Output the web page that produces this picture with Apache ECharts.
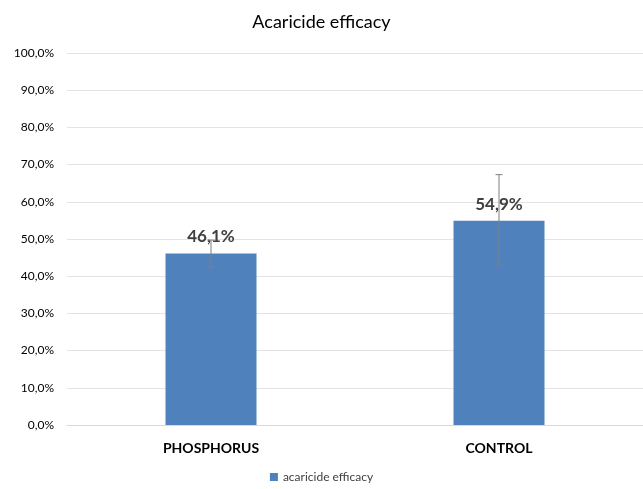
<!DOCTYPE html>
<html>
<head>
<meta charset="utf-8">
<script src="https://cdn.jsdelivr.net/npm/echarts@6/dist/echarts.min.js"></script>
<style>
  html, body { margin: 0; padding: 0; background: #fff; }
  #main { width: 643px; height: 489px; }
</style>
</head>
<body>
<div id="main"></div>
<script>
// data
var categories = ['PHOSPHORUS', 'CONTROL']
var efficacy = [46.1, 54.9]
var errLow = [42.3, 42.8]
var errHigh = [49.7, 67.3]
var yTicks = [0, 10, 20, 30, 40, 50, 60, 70, 80, 90, 100]

function pct (v) {
  return v.toFixed(1).replace('.', ',') + '%'
}

var errData = categories.map(function (c, i) {
  return [i, errLow[i], errHigh[i]]
})

var myChart = echarts.init(document.getElementById('main'))
myChart.setOption({
  animation: false,
  textStyle: { fontFamily: 'Lato' },
  title: {
    text: 'Acaricide efficacy',
    left: 'center',
    top: 8,
    textStyle: { fontSize: 18, fontWeight: 'normal', color: '#000' }
  },
  legend: {
    bottom: 1,
    left: 'center',
    data: ['acaricide efficacy'],
    icon: 'rect',
    itemWidth: 8,
    itemHeight: 8,
    itemGap: 4,
    textStyle: { fontSize: 12, color: '#404040' }
  },
  grid: {
    left: 67,
    top: 53,
    width: 579,
    height: 372
  },
  xAxis: {
    type: 'category',
    data: categories,
    axisLine: { lineStyle: { color: '#d9d9d9' } },
    axisTick: { show: false },
    axisLabel: { fontSize: 14, fontWeight: 'bold', color: '#000', margin: 16 }
  },
  yAxis: {
    type: 'value',
    min: yTicks[0],
    max: yTicks[yTicks.length - 1],
    interval: 10,
    axisLine: { show: false },
    axisTick: { show: false },
    axisLabel: {
      fontSize: 12,
      color: '#000',
      margin: 13,
      formatter: function (v) { return pct(v) }
    },
    splitLine: { lineStyle: { color: '#e3e3e3', width: 1 } }
  },
  series: [
    {
      name: 'acaricide efficacy',
      type: 'bar',
      data: efficacy,
      barWidth: 91,
      itemStyle: { color: '#4f81bd' },
      label: {
        show: true,
        position: 'top',
        distance: 8,
        fontSize: 17,
        fontWeight: 'bold',
        color: '#404040',
        formatter: function (p) { return pct(p.value) }
      },
      z: 2
    },
    {
      name: 'error',
      type: 'custom',
      data: errData,
      z: 5,
      renderItem: function (params, api) {
        var lo = api.coord([api.value(0), api.value(1)])
        var hi = api.coord([api.value(0), api.value(2)])
        var x = lo[0]
        var s = { stroke: '#7f7f7f', lineWidth: 1 }
        return {
          type: 'group',
          children: [
            { type: 'line', shape: { x1: x, y1: lo[1], x2: x, y2: hi[1] }, style: s },
            { type: 'line', shape: { x1: x - 3.5, y1: lo[1], x2: x + 3.5, y2: lo[1] }, style: s },
            { type: 'line', shape: { x1: x - 3.5, y1: hi[1], x2: x + 3.5, y2: hi[1] }, style: s }
          ]
        }
      }
    }
  ]
})
</script>
</body>
</html>
